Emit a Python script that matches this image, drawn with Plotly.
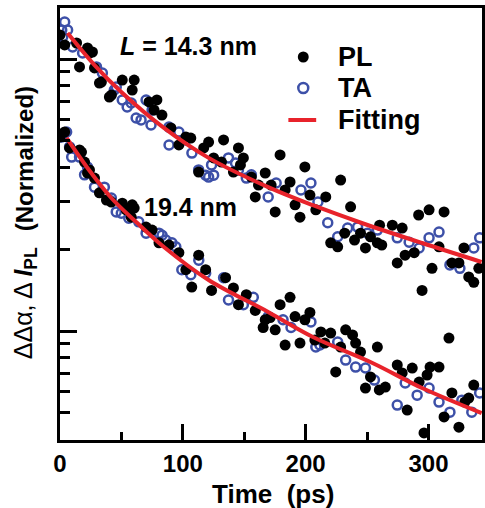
import plotly.graph_objects as go

# L = 14.3 nm (upper set)
time_pl_143 = [0, 3.8, 13.5, 15.9, 22.4, 24.0, 26.4, 28.1, 32.1, 33.7, 40.2, 41.9, 50.7, 58.8, 60.4,
               72.5, 76.6, 78.9, 83.0, 90.3, 96.8, 102.5, 106.5, 112.9, 117.0, 121.0, 125.1, 131.5,
               133.2, 141.2, 145.3, 146.9, 149.3, 155.8, 159.0, 161.6, 167.1, 171.9, 175.2, 179.2,
               183.3, 187.3, 191.4, 195.4, 199.4, 203.5, 208.3, 216.4, 220.4, 226.1, 228.5, 231.8,
               236.6, 239.8, 244.7, 248.7, 252.8, 258.4, 260.2, 262.0, 270.6, 274.6, 278.6, 281.0,
               288.4, 292.0, 294.8, 300.5, 302.9, 308.6, 312.7, 319.1, 324.8, 328.9, 332.8, 336.9, 341.0]
pl_143 = [1.225, 1.126, 1.145, 0.935, 1.098, 1.052, 1.061, 0.927, 0.816, 0.823, 0.725, 0.737, 0.837,
          0.769, 0.837, 0.695, 0.649, 0.707, 0.622, 0.558, 0.483, 0.517, 0.512, 0.384, 0.471, 0.495,
          0.433, 0.418, 0.504, 0.384, 0.471, 0.408, 0.433, 0.368, 0.311, 0.344, 0.381, 0.344, 0.274,
          0.444, 0.330, 0.353, 0.291, 0.262, 0.401, 0.316, 0.279, 0.311, 0.211, 0.204, 0.359, 0.229,
          0.286, 0.216, 0.229, 0.202, 0.222, 0.211, 0.245, 0.207, 0.245, 0.178, 0.239, 0.190, 0.194,
          0.267, 0.141, 0.279, 0.170, 0.204, 0.274, 0.178, 0.178, 0.202, 0.158, 0.151, 0.170]

time_ta_143 = [1.4, 2.2, 3.8, 6.2, 10.3, 18.4, 29.7, 34.5, 44.2, 45.8, 50.7, 54.7, 58.0, 62.0, 66.0,
               70.1, 74.1, 75.0, 88.7, 88.8, 96.8, 102.5, 107.4, 112.9, 118.6, 121.0, 123.4, 125.1,
               137.2, 142.9, 145.3, 151.7, 155.8, 169.5, 176.0, 196.2, 204.3, 210.0, 218.0, 226.1,
               234.2, 242.3, 250.3, 258.4, 274.6, 284.3, 292.4, 300.5, 308.6, 317.5, 325.6, 336.9, 341.7]
ta_143 = [1.278, 1.205, 1.368, 1.278, 1.107, 1.052, 0.935, 0.888, 0.769, 0.789, 0.707, 0.666, 0.689,
          0.607, 0.597, 0.707, 0.572, 0.649, 0.562, 0.483, 0.539, 0.504, 0.451, 0.391, 0.374, 0.368,
          0.408, 0.374, 0.433, 0.415, 0.391, 0.365, 0.375, 0.311, 0.350, 0.330, 0.350, 0.298, 0.250,
          0.222, 0.239, 0.241, 0.229, 0.235, 0.220, 0.212, 0.202, 0.220, 0.231, 0.175, 0.170, 0.202, 0.220]

time_fit_143 = [6.2, 28.1, 49.9, 84.6, 121.0, 169.5, 205.9, 246.3, 294.8, 343.3]
fit_143 = [1.246, 0.950, 0.756, 0.558, 0.433, 0.338, 0.290, 0.249, 0.2106, 0.1794]

# L = 19.4 nm (lower set)
time_pl_194 = [0, 3.8, 7.8, 15.9, 17.5, 20.0, 22.4, 24.0, 28.1, 32.1, 37.8, 41.8, 50.7, 53.9, 58.0,
               58.8, 60.4, 70.1, 75.0, 80.6, 88.7, 96.8, 102.5, 107.3, 112.9, 118.6, 123.4, 134.8,
               141.2, 145.3, 151.7, 159.0, 165.4, 167.1, 171.1, 175.2, 179.2, 183.3, 187.3, 191.4,
               195.4, 199.4, 203.5, 207.5, 212.4, 215.6, 220.4, 224.5, 228.5, 232.6, 238.2, 240.7,
               244.7, 248.7, 252.8, 258.4, 260.0, 264.9, 274.6, 278.6, 282.7, 286.8, 292.4, 296.4,
               298.9, 301.3, 308.6, 312.7, 316.7, 319.1, 324.8, 329.6, 332.8, 336.9]
pl_194 = [0.517, 0.539, 0.471, 0.463, 0.455, 0.418, 0.381, 0.391, 0.365, 0.322, 0.303, 0.298, 0.295,
          0.279, 0.262, 0.291, 0.283, 0.241, 0.235, 0.211, 0.207, 0.194, 0.168, 0.145, 0.190, 0.168,
          0.141, 0.157, 0.144, 0.125, 0.136, 0.119, 0.103, 0.110, 0.112, 0.101, 0.125, 0.0888, 0.133,
          0.113, 0.0903, 0.110, 0.117, 0.0926, 0.0992, 0.0903, 0.0983, 0.0707, 0.0873, 0.101, 0.0967,
          0.0903, 0.0837, 0.0617, 0.0678, 0.0873, 0.0607, 0.0622, 0.0750, 0.0701, 0.0512, 0.0731,
          0.0649, 0.0422, 0.0689, 0.0737, 0.0737, 0.0483, 0.0942, 0.0592, 0.0443, 0.0548, 0.0567, 0.0633]

time_ta_194 = [1.4, 5.4, 7.8, 9.5, 15.9, 20.0, 22.4, 28.1, 36.1, 40.2, 41.8, 45.8, 49.9, 56.0, 64.1,
               70.1, 80.6, 83.1, 86.2, 91.1, 94.3, 99.2, 106.5, 113.0, 118.6, 133.2, 137.2, 149.3,
               157.4, 169.5, 181.6, 188.1, 204.3, 208.3, 211.6, 226.1, 232.6, 240.7, 248.7, 256.0,
               274.6, 281.1, 290.8, 300.5, 308.6, 317.5, 327.2, 335.3, 341.7]
ta_194 = [0.517, 0.539, 0.475, 0.436, 0.436, 0.375, 0.401, 0.338, 0.338, 0.303, 0.308, 0.274, 0.271,
          0.260, 0.252, 0.229, 0.229, 0.225, 0.216, 0.211, 0.204, 0.168, 0.161, 0.182, 0.163, 0.157,
          0.130, 0.125, 0.133, 0.113, 0.110, 0.103, 0.108, 0.0873, 0.0888, 0.0911, 0.0782, 0.0737,
          0.0731, 0.0660, 0.0534, 0.0644, 0.0581, 0.0617, 0.0548, 0.0503, 0.0557, 0.0503, 0.0592]

time_fit_194 = [5.4, 22.4, 41.8, 62.0, 84.6, 121.0, 169.5, 205.9, 254.4, 294.8, 343.3]
fit_194 = [0.5124, 0.3974, 0.3083, 0.2517, 0.2037, 0.154, 0.1175, 0.0951, 0.0763, 0.0617, 0.0499]

x_tick_vals = [0, 100, 200, 300]
x_tick_text = ['0', '100', '200', '300']
legend_names = ['PL', 'TA', 'Fitting']

blue = '#3d50a8'
red = '#e8232b'
font_family = 'Liberation Sans, Arial, sans-serif'

W, H = 485, 508
L_M, R_M, T_M, B_M = 60, 0, 8, 68
PW, PH = W - L_M - R_M, H - T_M - B_M


def px(xp):
    # pixel -> paper x
    return (xp - L_M) / PW


def py(yp):
    # pixel -> paper y
    return 1 - (yp - T_M) / PH


fig = go.Figure()

# TA (open blue circles)
for t, v in [(time_ta_143, ta_143), (time_ta_194, ta_194)]:
    fig.add_trace(go.Scatter(x=t, y=v, mode='markers', name='TA', showlegend=False,
                             marker=dict(symbol='circle-open', size=9, color=blue,
                                         line=dict(width=2.5, color=blue))))
# PL (black dots)
for t, v in [(time_pl_143, pl_143), (time_pl_194, pl_194)]:
    fig.add_trace(go.Scatter(x=t, y=v, mode='markers', name='PL', showlegend=False,
                             marker=dict(symbol='circle', size=11, color='black')))
# fitting curves
for t, v in [(time_fit_143, fit_143), (time_fit_194, fit_194)]:
    fig.add_trace(go.Scatter(x=t, y=v, mode='lines', name='Fitting', showlegend=False,
                             line=dict(color=red, width=4, shape='spline')))

minor_y = [0.05, 0.06, 0.07, 0.08, 0.09, 0.2, 0.3, 0.4, 0.5, 0.6, 0.7, 0.8, 0.9]

fig.update_layout(
    width=W, height=H,
    autosize=False,
    paper_bgcolor='white', plot_bgcolor='white',
    margin=dict(l=L_M, r=R_M, t=T_M, b=B_M),
    font=dict(family=font_family, color='black'),
    showlegend=False,
    xaxis=dict(range=[0, 343.6], tickmode='array', tickvals=x_tick_vals, ticktext=x_tick_text,
               ticks='inside', ticklen=16, tickwidth=3, tickcolor='black',
               minor=dict(dtick=50, tick0=0, ticks='inside', ticklen=8, tickwidth=3, tickcolor='black'),
               showline=True, linewidth=3, linecolor='black', mirror=True,
               showgrid=False, zeroline=False,
               tickfont=dict(size=24, family=font_family, weight='bold')),
    yaxis=dict(type='log', range=[-1.4007, 0.1875], tickmode='array', tickvals=[0.1, 1],
               showticklabels=False,
               ticks='inside', ticklen=17, tickwidth=3, tickcolor='black',
               minor=dict(tickmode='array', tickvals=minor_y, ticks='inside', ticklen=10,
                          tickwidth=3, tickcolor='black'),
               showline=True, linewidth=3, linecolor='black', mirror=True,
               showgrid=False, zeroline=False),
)

# hand-made legend (symbols + labels)
r = 5.5
fig.add_shape(type='circle', xref='paper', yref='paper', fillcolor='black', line=dict(width=0),
              x0=px(305 - r), x1=px(305 + r), y0=py(57 + r), y1=py(57 - r))
fig.add_shape(type='circle', xref='paper', yref='paper', line=dict(width=2.5, color=blue),
              x0=px(305 - r + 0.5), x1=px(305 + r - 0.5), y0=py(88 + r - 0.5), y1=py(88 - r + 0.5))
fig.add_shape(type='line', xref='paper', yref='paper', line=dict(width=4, color=red),
              x0=px(290), x1=px(318), y0=py(120), y1=py(120))
for name, yp in zip(legend_names, [57, 88, 120]):
    fig.add_annotation(text='<b>%s</b>' % name, xref='paper', yref='paper', x=px(338), y=py(yp),
                       showarrow=False, xanchor='left', yanchor='middle',
                       font=dict(size=27, family=font_family))

fig.add_annotation(text='<b><i>L</i> = 14.3 nm</b>', xref='paper', yref='paper',
                   x=px(189), y=py(46), showarrow=False, xanchor='center', yanchor='middle',
                   font=dict(size=25, family=font_family))
fig.add_annotation(text='<b>19.4 nm</b>', xref='paper', yref='paper',
                   x=px(191), y=py(207), showarrow=False, xanchor='center', yanchor='middle',
                   font=dict(size=25, family=font_family))
fig.add_annotation(text='<b>Time  (ps)</b>', xref='paper', yref='paper',
                   x=px(275), y=py(494), showarrow=False, xanchor='center', yanchor='middle',
                   font=dict(size=26, family=font_family))

# y-axis title in two pieces, each placed where the original has it
fig.add_annotation(text='<b>(Normalized)</b>', xref='paper', yref='paper',
                   x=px(25), y=py(159), showarrow=False, xanchor='center', yanchor='middle',
                   textangle=-90, font=dict(size=24, family=font_family))
fig.add_annotation(text='ΔΔα, Δ <b><i>I</i><sub>PL</sub></b>', xref='paper', yref='paper',
                   x=px(25), y=py(303), showarrow=False, xanchor='center', yanchor='middle',
                   textangle=-90, font=dict(size=25, family=font_family))

fig.write_html("out.html", config={'displayModeBar': False},
               post_script="document.body.style.margin='0';")
